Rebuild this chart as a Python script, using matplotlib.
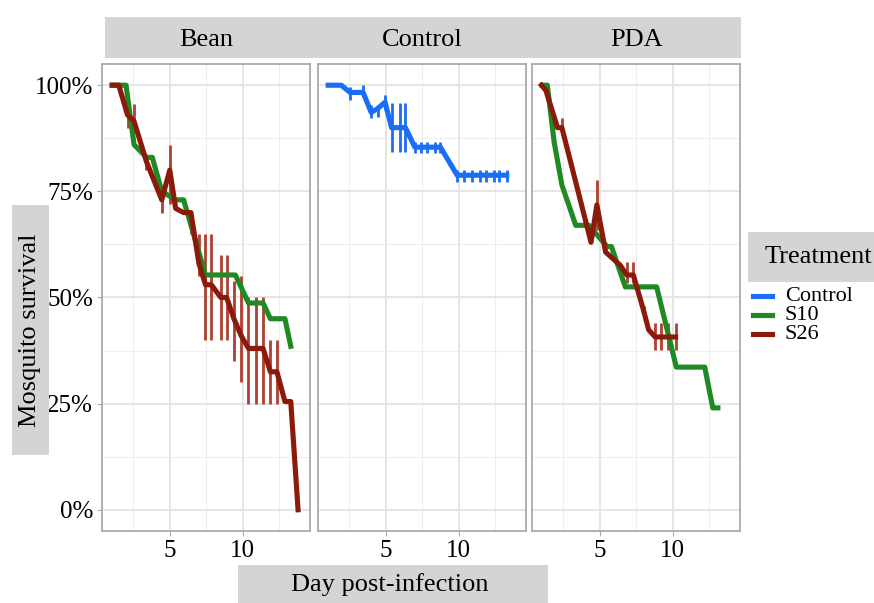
import numpy as np
import matplotlib
matplotlib.use('Agg')
import matplotlib.pyplot as plt
from matplotlib.patches import Rectangle
from matplotlib.lines import Line2D
from matplotlib.ticker import PercentFormatter, FixedLocator

plt.rcParams['font.family'] = ['Liberation Serif', 'DejaVu Serif']

nan = np.nan

# Bean medium
bean_s10_day = [1.05, 2.0, 2.55, 3.4, 3.8, 4.45, 5.4, 5.95, 7.45, 9.5, 10.4, 11.4, 11.9, 12.9, 13.3]
bean_s10_surv = [1.0, 1.0, 0.86, 0.83, 0.83, 0.75, 0.73, 0.73, 0.553, 0.553, 0.487, 0.487, 0.45, 0.45, 0.385]

bean_s26_day = [1.05, 1.5, 2.1, 2.55, 3.4, 4.45, 5.0, 5.4, 5.95, 6.45, 7.0, 7.45, 7.85, 8.5, 8.9,
                9.4, 9.9, 10.4, 10.9, 11.4, 11.9, 12.35, 12.9, 13.3, 13.8]
bean_s26_surv = [1.0, 1.0, 0.93, 0.915, 0.82, 0.73, 0.80, 0.71, 0.70, 0.70, 0.58, 0.53, 0.53, 0.50, 0.50,
                 0.45, 0.41, 0.38, 0.38, 0.38, 0.325, 0.325, 0.255, 0.255, 0.0]
bean_s26_lo = [nan, nan, 0.90, 0.895, 0.80, 0.70, 0.72, nan, nan, 0.65, 0.55, 0.40, 0.40, 0.40, 0.40,
               0.35, 0.30, 0.25, 0.25, 0.25, 0.25, 0.25, nan, nan, nan]
bean_s26_hi = [nan, nan, 0.95, 0.955, 0.83, 0.75, 0.86, nan, nan, 0.70, 0.65, 0.65, 0.65, 0.60, 0.60,
               0.54, 0.55, 0.50, 0.50, 0.50, 0.40, 0.40, nan, nan, nan]

# Control medium
ctrl_day = [1.05, 1.95, 2.55, 3.45, 4.0, 4.45, 4.95, 5.4, 5.95, 6.35, 7.0, 7.4, 7.85, 8.35, 8.75,
            9.9, 10.4, 10.9, 11.5, 11.9, 12.4, 12.8, 13.3]
ctrl_surv = [1.0, 1.0, 0.983, 0.983, 0.936, 0.945, 0.96, 0.90, 0.90, 0.90, 0.854, 0.854, 0.854, 0.854, 0.854,
             0.788, 0.788, 0.788, 0.788, 0.788, 0.788, 0.788, 0.788]
ctrl_lo = [nan, nan, 0.965, 0.972, 0.922, 0.925, 0.941, 0.842, 0.842, 0.842, 0.84, 0.84, 0.84, 0.84, 0.84,
           0.772, 0.772, 0.772, 0.772, 0.772, 0.772, 0.772, 0.772]
ctrl_hi = [nan, nan, 0.995, 1.0, 0.953, 0.953, 0.976, 0.958, 0.958, 0.958, 0.866, 0.866, 0.866, 0.866, 0.866,
           0.80, 0.80, 0.80, 0.80, 0.80, 0.80, 0.80, 0.80]

# PDA medium
pda_s10_day = [1.05, 1.4, 1.87, 2.4, 3.35, 4.25, 5.5, 5.8, 6.75, 8.9, 10.25, 12.2, 12.75, 13.1]
pda_s10_surv = [1.0, 1.0, 0.866, 0.765, 0.67, 0.67, 0.62, 0.62, 0.525, 0.525, 0.336, 0.336, 0.24, 0.24]

pda_s26_day = [1.0, 1.3, 2.1, 2.4, 4.4, 4.8, 5.4, 6.4, 6.85, 7.3, 8.0, 8.35, 8.8, 9.2, 9.7, 10.2]
pda_s26_surv = [1.0, 0.988, 0.90, 0.90, 0.63, 0.718, 0.607, 0.576, 0.553, 0.553, 0.47, 0.424,
                0.407, 0.407, 0.407, 0.407]
pda_s26_lo = [nan, nan, nan, 0.894, nan, 0.659, nan, nan, 0.534, 0.534, 0.455, nan,
              0.376, 0.376, 0.376, 0.376]
pda_s26_hi = [nan, nan, nan, 0.922, nan, 0.776, nan, nan, 0.583, 0.583, 0.48, nan,
              0.44, 0.44, 0.44, 0.44]

facets = ['Bean', 'Control', 'PDA']
treatments = ['Control', 'S10', 'S26']
colors = {'Control': '#1a6ef5', 'S10': '#1f8a24', 'S26': '#8c1a0a'}
bar_colors = {'Control': '#1a6ef5', 'S26': '#ad4030'}

series = {
    'Bean': [('S10', bean_s10_day, bean_s10_surv, None, None),
             ('S26', bean_s26_day, bean_s26_surv, bean_s26_lo, bean_s26_hi)],
    'Control': [('Control', ctrl_day, ctrl_surv, ctrl_lo, ctrl_hi)],
    'PDA': [('S10', pda_s10_day, pda_s10_surv, None, None),
            ('S26', pda_s26_day, pda_s26_surv, pda_s26_lo, pda_s26_hi)],
}

fig = plt.figure(figsize=(8.74, 6.03), dpi=100)

lefts = [0.1167, 0.3638, 0.6087]
width = 0.2385
bottom, height = 0.1194, 0.7745

for i, name in enumerate(facets):
    ax = fig.add_axes([lefts[i], bottom, width, height])
    ax.set_xlim(0.35, 14.65)
    ax.set_ylim(-0.05, 1.05)
    ax.xaxis.set_major_locator(FixedLocator([5, 10]))
    ax.xaxis.set_minor_locator(FixedLocator([2.5, 7.5, 12.5]))
    ax.yaxis.set_major_locator(FixedLocator([0, 0.25, 0.5, 0.75, 1.0]))
    ax.yaxis.set_minor_locator(FixedLocator([0.125, 0.375, 0.625, 0.875]))
    ax.yaxis.set_major_formatter(PercentFormatter(1.0, decimals=0))
    ax.grid(which='major', color='#e3e3e3', linewidth=1.3)
    ax.grid(which='minor', color='#eeeeee', linewidth=0.8)
    ax.set_axisbelow(True)
    for s in ax.spines.values():
        s.set_color('#aaaaaa')
        s.set_linewidth(1.3)
    ax.tick_params(which='major', length=3.5, color='#aaaaaa', labelsize=18, pad=3)
    ax.tick_params(which='minor', length=0)
    if i > 0:
        ax.tick_params(axis='y', left=False, labelleft=False)

    for trt, d, s, lo, hi in series[name]:
        if lo is not None:
            ax.vlines(d, lo, hi, color=bar_colors[trt], linewidth=2.0, zorder=2)
        ax.plot(d, s, color=colors[trt], linewidth=3.7, solid_joinstyle='round', zorder=3)

# facet strip
fig.add_artist(Rectangle((0.120, 0.904), 0.728, 0.068, transform=fig.transFigure,
                         facecolor='#d4d4d4', edgecolor='none'))
for i, name in enumerate(facets):
    fig.text(lefts[i] + width / 2, 0.934, name, ha='center', va='center', fontsize=19)

# axis titles with grey boxes
fig.add_artist(Rectangle((0.0137, 0.245), 0.042, 0.415, transform=fig.transFigure,
                         facecolor='#d4d4d4', edgecolor='none'))
fig.text(0.0345, 0.453, 'Mosquito survival', rotation=90, ha='center', va='center', fontsize=19)

fig.add_artist(Rectangle((0.272, 0.0), 0.355, 0.063, transform=fig.transFigure,
                         facecolor='#d4d4d4', edgecolor='none'))
fig.text(0.446, 0.030, 'Day post-infection', ha='center', va='center', fontsize=19)

# legend
fig.add_artist(Rectangle((0.856, 0.532), 0.144, 0.083, transform=fig.transFigure,
                         facecolor='#d4d4d4', edgecolor='none'))
fig.text(0.875, 0.574, 'Treatment', ha='left', va='center', fontsize=19)
key_y = [0.509, 0.477, 0.446]
for trt, y in zip(treatments, key_y):
    fig.add_artist(Line2D([0.861, 0.883], [y, y], transform=fig.transFigure,
                          color=colors[trt], linewidth=3.7))
    fig.text(0.898, y, trt, ha='left', va='center', fontsize=16)

fig.savefig('out.png', dpi=100)
